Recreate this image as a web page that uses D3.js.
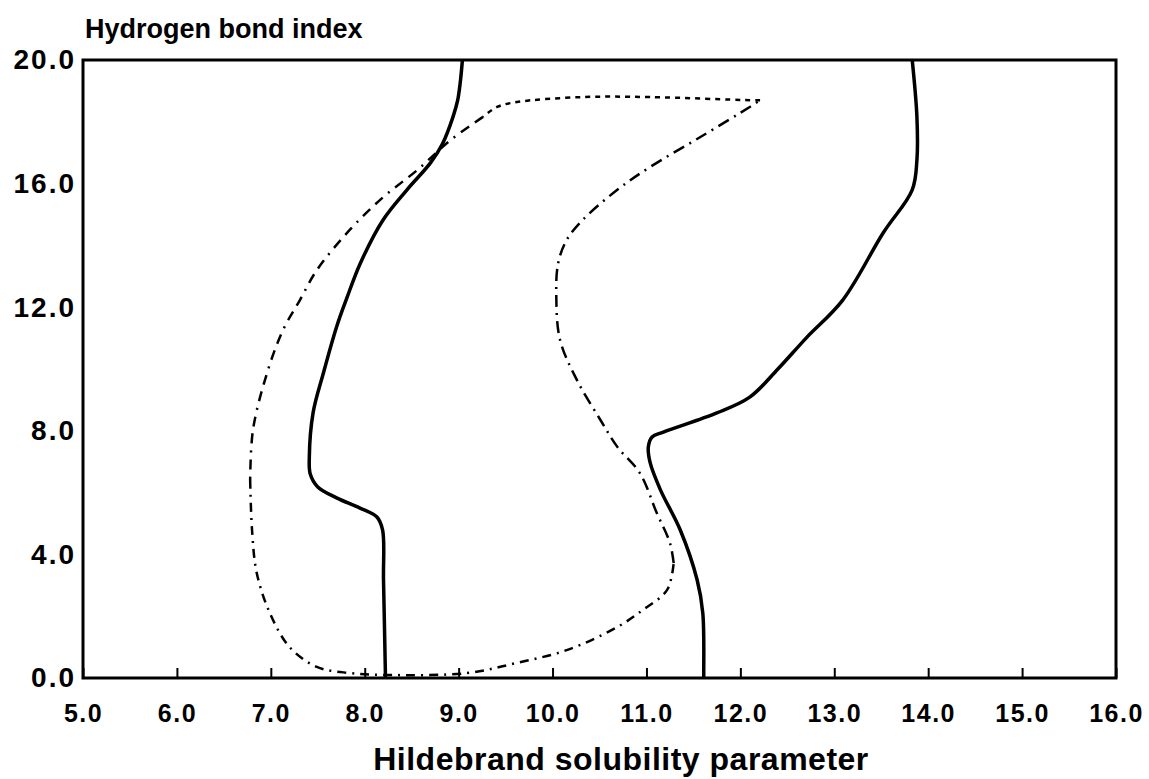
<!DOCTYPE html>
<html>
<head>
<meta charset="utf-8">
<script src="https://cdn.jsdelivr.net/npm/d3@7"></script>
<style>
  body { margin: 0; background: #fff; }
  text { font-family: "Liberation Sans", Arial, sans-serif; font-weight: bold; fill: #000; }
</style>
</head>
<body>
<div id="chart-area"></div>
<script>
// tick values
var xTicks = [5, 6, 7, 8, 9, 10, 11, 12, 13, 14, 15, 16];
var yTicks = [0, 4, 8, 12, 16, 20];

// left solid boundary (solubility parameter, H-bond index)
var leftSolidX = [9.04, 9.02, 8.99, 8.94, 8.83, 8.70, 8.45, 8.19, 7.95, 7.81, 7.70, 7.56, 7.45, 7.41, 7.42, 7.50, 7.70, 7.95, 8.13, 8.19, 8.20, 8.22, 8.22];
var leftSolidY = [20.0, 19.35, 18.7, 18.16, 17.3, 16.67, 15.8, 14.8, 13.4, 12.3, 11.36, 9.87, 8.58, 7.15, 6.6, 6.18, 5.83, 5.5, 5.21, 4.79, 3.17, 0.16, 0.0];

// right solid boundary
var rightSolidX = [13.83, 13.88, 13.88, 13.83, 13.52, 13.09, 12.70, 12.40, 12.10, 11.75, 11.18, 11.06, 11.02, 11.04, 11.15, 11.36, 11.54, 11.60, 11.61, 11.61];
var rightSolidY = [20.0, 18.16, 16.76, 15.8, 14.4, 12.23, 11.0, 10.0, 9.09, 8.58, 7.96, 7.8, 7.48, 6.96, 6.08, 4.79, 3.17, 2.1, 0.16, 0.0];

// broken envelope, in four pieces
var topX = [12.21, 12.1, 11.04, 10.32, 9.62, 9.41, 9.26];
var topY = [18.7, 18.7, 18.8, 18.8, 18.64, 18.48, 18.16];

var leftX = [9.26, 8.91, 8.56, 8.2, 7.84, 7.49, 7.31, 7.13, 6.96, 6.81, 6.78];
var leftY = [18.16, 17.4, 16.44, 15.57, 14.5, 13.2, 12.23, 11.26, 9.87, 8.03, 6.41];

var bottomX = [6.78, 6.80, 6.85, 6.99, 7.20, 7.49, 7.84, 8.2, 9.09, 9.62, 10.15, 10.69, 10.96, 11.22, 11.29];
var bottomY = [6.41, 4.79, 3.4, 2.1, 1.0, 0.36, 0.16, 0.1, 0.16, 0.49, 0.9, 1.65, 2.2, 2.85, 3.72];

var rightX = [11.29, 11.25, 11.11, 10.93, 10.69, 10.51, 10.26, 10.08, 10.04, 10.06, 10.15, 10.32, 10.69, 11.04, 11.57, 12.1, 12.21];
var rightY = [3.72, 4.37, 5.34, 6.63, 7.48, 8.35, 9.64, 10.94, 12.33, 13.43, 14.17, 14.82, 15.8, 16.54, 17.5, 18.48, 18.7];

var W = 1149, H = 779;
var margin = { left: 83, right: 33, top: 60, bottom: 101 };
var width = W - margin.left - margin.right,
    height = H - margin.top - margin.bottom;

var svg = d3.select("#chart-area")
            .append("svg")
                .attr("width", W)
                .attr("height", H);

var g = svg.append("g")
           .attr("transform", "translate(" + margin.left + "," + margin.top + ")");

var x = d3.scaleLinear().domain([5, 16]).range([0, width]);
var y = d3.scaleLinear().domain([0, 20]).range([height, 0]);

// X axis, ticks pointing in
var xAxisCall = d3.axisBottom(x)
                  .tickValues(xTicks)
                  .tickSizeInner(-10)
                  .tickSizeOuter(0)
                  .tickPadding(26)
                  .tickFormat(d3.format(".1f"));
var xAxisGroup = g.append("g")
                  .attr("transform", "translate(0," + height + ")")
                  .call(xAxisCall);
xAxisGroup.select(".domain").remove();
xAxisGroup.selectAll("line").attr("stroke", "#000").attr("stroke-width", 2);
xAxisGroup.selectAll("text")
          .attr("font-size", "25px")
          .attr("letter-spacing", "1.5px")
          .attr("font-family", "'Liberation Sans', Arial, sans-serif");

// Y axis, labels only
var yAxisCall = d3.axisLeft(y)
                  .tickValues(yTicks)
                  .tickSize(0)
                  .tickPadding(7)
                  .tickFormat(d3.format(".1f"));
var yAxisGroup = g.append("g").call(yAxisCall);
yAxisGroup.select(".domain").remove();
yAxisGroup.selectAll("text")
          .attr("font-size", "28px")
          .attr("letter-spacing", "2px")
          .attr("font-family", "'Liberation Sans', Arial, sans-serif");

// frame
g.append("rect")
    .attr("x", 0).attr("y", 0)
    .attr("width", width).attr("height", height)
    .attr("fill", "none")
    .attr("stroke", "#000")
    .attr("stroke-width", 3);

// labels
svg.append("text")
    .attr("x", 85)
    .attr("y", 38)
    .attr("font-size", "27px")
    .text("Hydrogen bond index");

svg.append("text")
    .attr("x", 621)
    .attr("y", 770)
    .attr("font-size", "32px")
    .attr("letter-spacing", "0.5px")
    .attr("text-anchor", "middle")
    .text("Hildebrand solubility parameter");

var line = d3.line()
    .x(function(d) { return x(d[0]); })
    .y(function(d) { return y(d[1]); })
    .curve(d3.curveCatmullRom.alpha(0.5));

function drawCurve(xs, ys, w, dash) {
  g.append("path")
    .datum(d3.zip(xs, ys))
    .attr("fill", "none")
    .attr("stroke", "#000")
    .attr("stroke-width", w)
    .attr("stroke-linecap", "butt")
    .attr("stroke-dasharray", dash)
    .attr("d", line);
}

drawCurve(leftSolidX, leftSolidY, 3.5, null);
drawCurve(rightSolidX, rightSolidY, 3.5, null);
drawCurve(topX, topY, 2.5, "5,5");
drawCurve(leftX, leftY, 2.5, "10,7,10,7,2,7");
drawCurve(bottomX, bottomY, 2.5, "9,6,2,6");
drawCurve(rightX, rightY, 2.5, "12,6,2,6");
</script>
</body>
</html>
